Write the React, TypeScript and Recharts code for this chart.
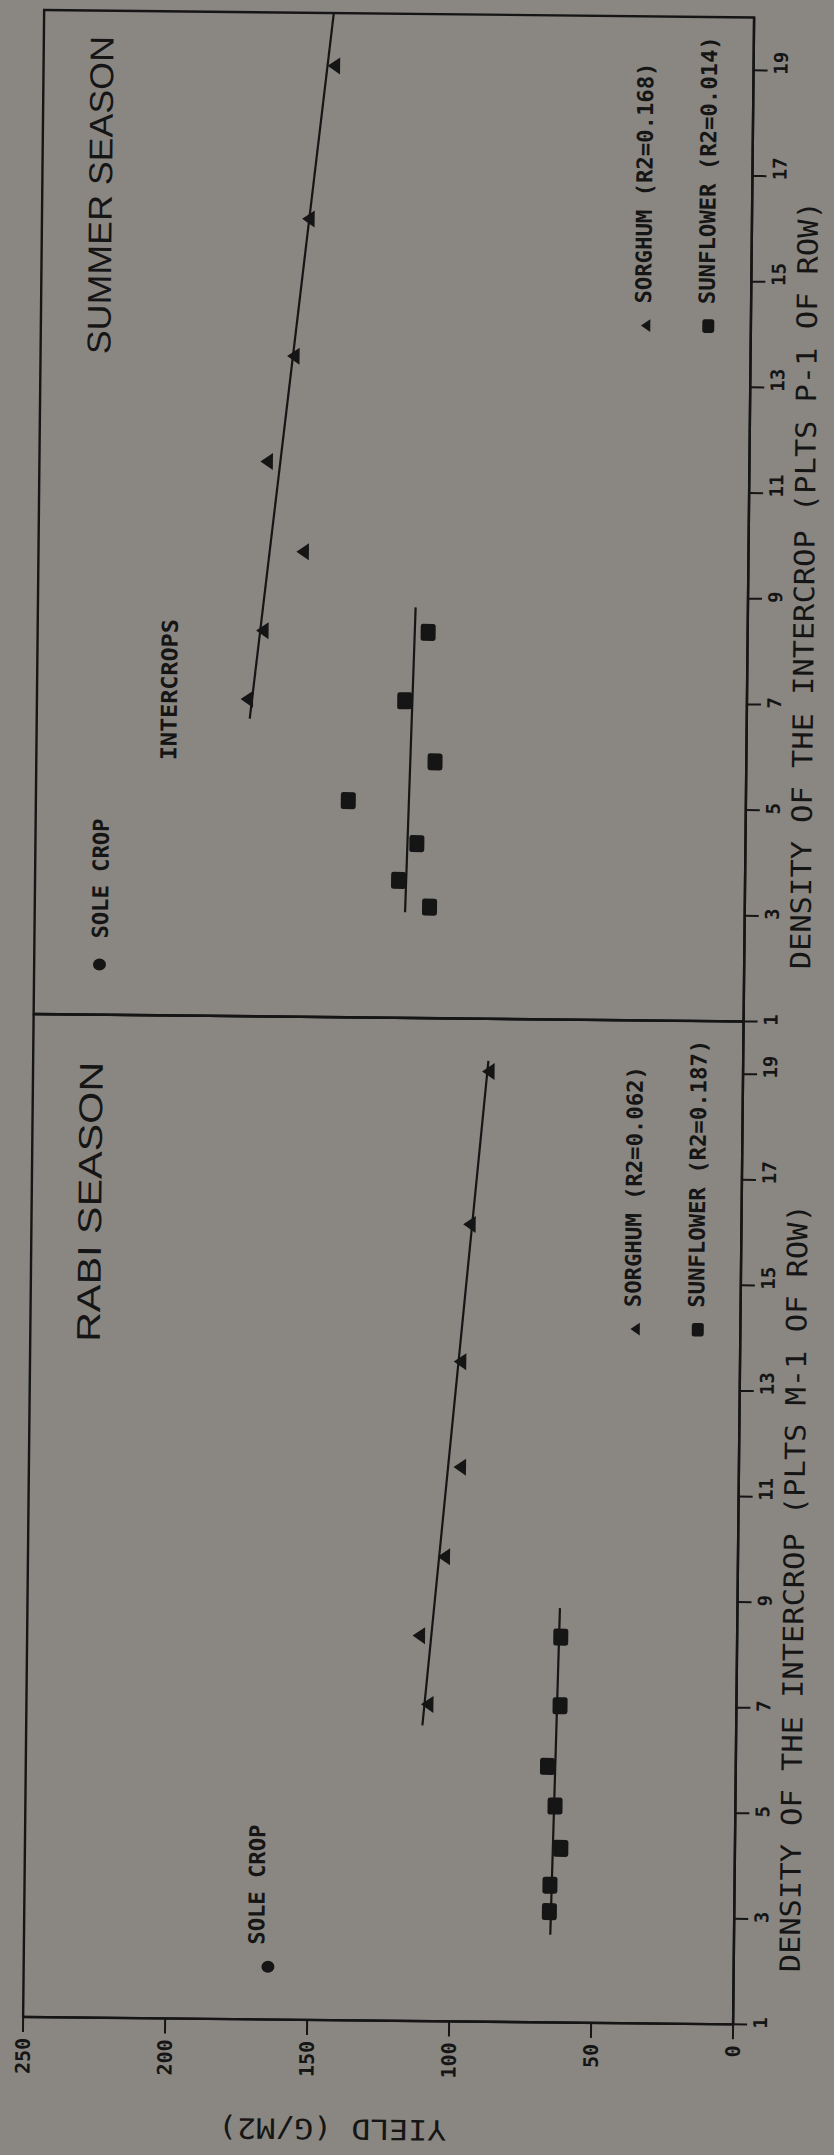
import React from 'react';
import {
  ScatterChart,
  Scatter,
  XAxis,
  YAxis,
  ReferenceLine,
  ReferenceDot,
  ReferenceArea,
} from 'recharts';

// plant densities (plts per m of row) of the two intercrops
const sorghumDensity = [7.0, 8.3, 9.8, 11.5, 13.5, 16.1, 19.0];
const sunflowerDensity = [3.1, 3.6, 4.3, 5.1, 5.85, 7.0, 8.3];

// yields (g/m2)
const rabiSorghum = [108.8, 112, 103.5, 98.2, 98.5, 95.7, 89.6];
const rabiSunflower = [65.1, 65.0, 61.3, 63.5, 66.3, 62.1, 62.1];
const summerSorghum = [176, 170.8, 156.9, 169.9, 160.9, 156.1, 147.7];
const summerSunflower = [111, 122, 115.7, 140, 109.6, 120.5, 112.5];

// regression lines, [density, yield] at both ends
const rabiSorghumFit = [[6.6, 110.5], [19.2, 89.7]];
const rabiSunflowerFit = [[2.66, 64.7], [8.85, 62.5]];
const summerSorghumFit = [[6.63, 175], [20, 148]];
const summerSunflowerFit = [[3.0, 119.6], [8.77, 117]];

// sole crop sorghum
const rabiSole = [2.0, 164];
const summerSole = [1.95, 227];

const densityTicks = [1, 3, 5, 7, 9, 11, 13, 15, 17, 19];
const yieldTicks = [0, 50, 100, 150, 200, 250];
const innerYieldTicks = [50, 100, 150, 200];

const INK = '#151515';
const BG = '#8a8782';
const MONO = '"DejaVu Sans Mono", "Liberation Mono", monospace';
const SANS = '"Liberation Sans", "DejaVu Sans", sans-serif';

const toPoints = (xs: number[], ys: number[]) => xs.map((x, i) => ({ x, y: ys[i] }));

const Tri = ({ cx, cy, s = 1 }: any) => (
  <path
    d={`M${cx - 8.5 * s},${cy + 6 * s} L${cx + 8.5 * s},${cy + 6 * s} L${cx},${cy - 6.5 * s} Z`}
    fill={INK}
  />
);

const Sq = ({ cx, cy, s = 1 }: any) => (
  <rect x={cx - 8.5 * s} y={cy - 7.5 * s} width={17 * s} height={15 * s} rx={2.5} fill={INK} />
);

const Txt = ({ x, y, text, len, size = 22, font = MONO, weight = 'bold', anchor = 'start', transform }: any) => (
  <text
    x={x}
    y={y}
    textLength={len}
    lengthAdjust="spacingAndGlyphs"
    fontFamily={font}
    fontSize={size}
    fontWeight={weight}
    fill={INK}
    textAnchor={anchor}
    transform={transform}
  >
    {text}
  </text>
);

const DensityTick = ({ x, y, payload }: any) => (
  <text x={x - 4} y={y + 18} fontFamily={MONO} fontSize={19} fontWeight="bold" fill={INK} textAnchor="start">
    {payload.value}
  </text>
);

const YieldTick = ({ x, y, payload }: any) => (
  <text x={x - 4} y={y + 7} fontFamily={MONO} fontSize={20} fontWeight="bold" fill={INK} textAnchor="end">
    {payload.value}
  </text>
);

interface PanelProps {
  left: number;
  width: number;
  yWidth: number;
  marginRight: number;
  title: string;
  titleStart: number;
  titleLen: number;
  axisTitle: string;
  sorghum: number[];
  sunflower: number[];
  sorghumFit: number[][];
  sunflowerFit: number[][];
  sole: number[];
  soleDx: number;
  soleDy: number;
  r2: string[];
  main: boolean;
}

const Panel = (p: PanelProps) => (
  <div style={{ position: 'absolute', left: p.left, top: 0 }}>
    <ScatterChart width={p.width} height={834} margin={{ top: 33, right: p.marginRight, bottom: 0, left: 0 }}>
      <XAxis
        type="number"
        dataKey="x"
        domain={[1, 20]}
        ticks={densityTicks}
        interval={0}
        allowDataOverflow
        height={91}
        axisLine={{ stroke: INK, strokeWidth: 2.4 }}
        tickLine={{ stroke: INK, strokeWidth: 2 }}
        tickSize={14}
        tick={(t: any) => <DensityTick {...t} />}
        label={{
          content: ({ viewBox }: any) => (
            <Txt
              x={viewBox.x + viewBox.width / 19}
              y={viewBox.y + 66}
              text={p.axisTitle}
              len={768}
              size={28}
              weight="normal"
            />
          ),
        }}
      />
      <YAxis
        type="number"
        dataKey="y"
        domain={[0, 250]}
        ticks={p.main ? yieldTicks : innerYieldTicks}
        interval={0}
        allowDataOverflow
        width={p.yWidth}
        axisLine={{ stroke: INK, strokeWidth: 2.4 }}
        tickLine={{ stroke: INK, strokeWidth: 2 }}
        tickSize={15}
        tick={p.main ? (t: any) => <YieldTick {...t} /> : false}
        label={
          p.main
            ? {
                content: ({ viewBox }: any) => {
                  const cx = 35;
                  const cy = viewBox.y + viewBox.height * 0.437;
                  return (
                    <Txt
                      x={cx}
                      y={cy}
                      text="YIELD  (G/M2)"
                      len={228}
                      size={28}
                      weight="normal"
                      anchor="middle"
                      transform={`rotate(-90 ${cx} ${cy})`}
                    />
                  );
                },
              }
            : undefined
        }
      />
      <ReferenceArea
        x1={1}
        x2={20}
        y1={0}
        y2={250}
        fill={BG}
        fillOpacity={0}
        stroke={INK}
        strokeWidth={2.4}
        ifOverflow="visible"
      />

      <ReferenceLine
        segment={[{ x: p.sorghumFit[0][0], y: p.sorghumFit[0][1] }, { x: p.sorghumFit[1][0], y: p.sorghumFit[1][1] }]}
        stroke={INK}
        strokeWidth={2.2}
        ifOverflow="visible"
      />
      <ReferenceLine
        segment={[{ x: p.sunflowerFit[0][0], y: p.sunflowerFit[0][1] }, { x: p.sunflowerFit[1][0], y: p.sunflowerFit[1][1] }]}
        stroke={INK}
        strokeWidth={2.2}
        ifOverflow="visible"
      />

      <Scatter
        name="Sorghum"
        data={toPoints(sorghumDensity, p.sorghum)}
        shape={(s: any) => <Tri cx={s.cx} cy={s.cy} />}
        isAnimationActive={false}
      />
      <Scatter
        name="Sunflower"
        data={toPoints(sunflowerDensity, p.sunflower)}
        shape={(s: any) => <Sq cx={s.cx} cy={s.cy} />}
        isAnimationActive={false}
      />
      <Scatter
        name="Sole crop"
        data={[{ x: p.sole[0], y: p.sole[1] }]}
        shape={(s: any) => (
          <g>
            <ellipse cx={s.cx} cy={s.cy} rx={6} ry={6.5} fill={INK} />
            <Txt x={s.cx + p.soleDx} y={s.cy + p.soleDy} text="SOLE CROP" len={120} />
          </g>
        )}
        isAnimationActive={false}
      />

      {/* season title */}
      <ReferenceDot
        x={p.titleStart}
        y={225.5}
        r={0}
        ifOverflow="visible"
        shape={(s: any) => (
          <Txt x={s.cx} y={s.cy} text={p.title} len={p.titleLen} size={33} font={SANS} weight="normal" />
        )}
      />

      {!p.main && (
        <ReferenceDot
          x={5.83}
          y={200.7}
          r={0}
          ifOverflow="visible"
          shape={(s: any) => <Txt x={s.cx} y={s.cy} text="INTERCROPS" len={141} />}
        />
      )}

      {/* legend */}
      <ReferenceDot
        x={14.15}
        y={37}
        r={0}
        ifOverflow="visible"
        shape={(s: any) => (
          <g>
            <Tri cx={s.cx} cy={s.cy} s={0.75} />
            <Txt x={s.cx + 22} y={s.cy + 5} text={`SORGHUM (R2=${p.r2[0]})`} len={241} />
          </g>
        )}
      />
      <ReferenceDot
        x={14.15}
        y={15}
        r={0}
        ifOverflow="visible"
        shape={(s: any) => (
          <g>
            <Sq cx={s.cx} cy={s.cy} s={0.8} />
            <Txt x={s.cx + 22} y={s.cy + 6} text={`SUNFLOWER (R2=${p.r2[1]})`} len={268} />
          </g>
        )}
      />
    </ScatterChart>
  </div>
);

export default function App() {
  return (
    <div
      style={{
        position: 'absolute',
        left: 0,
        top: 0,
        width: 834,
        height: 2155,
        overflow: 'hidden',
        background: BG,
      }}
    >
      {/* the scanned page sits slightly askew */}
      <div
        style={{
          position: 'absolute',
          left: 0,
          top: 0,
          width: 834,
          height: 2155,
          transformOrigin: '417px 1077px',
          transform: 'rotate(0.6deg)',
        }}
      >
        {/* chart is drawn landscape, then turned a quarter to the left */}
        <div
          style={{
            position: 'absolute',
            left: 0,
            top: 0,
            width: 2155,
            height: 834,
            transformOrigin: '0 0',
            transform: 'translateY(2155px) rotate(-90deg)',
          }}
        >
          <Panel
            left={0}
            width={1137}
            yWidth={134}
            marginRight={0}
            title="RABI SEASON"
            titleStart={13.8}
            titleLen={280}
            axisTitle="DENSITY OF THE INTERCROP (PLTS M-1 OF ROW)"
            sorghum={rabiSorghum}
            sunflower={rabiSunflower}
            sorghumFit={rabiSorghumFit}
            sunflowerFit={rabiSunflowerFit}
            sole={rabiSole}
            soleDx={22}
            soleDy={-4}
            r2={['0.062', '0.187']}
            main
          />
          <Panel
            left={1097}
            width={1058}
            yWidth={40}
            marginRight={14}
            title="SUMMER SEASON"
            titleStart={13.5}
            titleLen={318}
            axisTitle="DENSITY OF THE INTERCROP (PLTS P-1 OF ROW)"
            sorghum={summerSorghum}
            sunflower={summerSunflower}
            sorghumFit={summerSorghumFit}
            sunflowerFit={summerSunflowerFit}
            sole={summerSole}
            soleDx={26}
            soleDy={8}
            r2={['0.168', '0.014']}
            main={false}
          />
        </div>
      </div>
    </div>
  );
}
